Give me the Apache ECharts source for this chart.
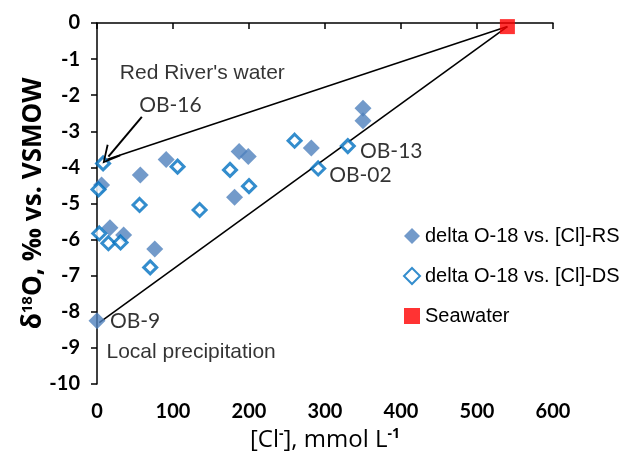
<!DOCTYPE html>
<html>
<head>
<meta charset="utf-8">
<script src="https://cdn.jsdelivr.net/npm/echarts@6/dist/echarts.min.js"></script>
<style>html,body{margin:0;padding:0;background:#fff}#c{width:628px;height:457px}</style>
</head>
<body>
<div id="c"></div>
<script>
// ---- data ----
const rsData = [[350,-2.36],[350,-2.71],[282,-3.46],[91,-3.78],[187,-3.56],[199,-3.70],[57,-4.21],[181,-4.83],[6,-4.49],[17,-5.67],[35,-5.87],[76,-6.26],[0,-8.25]];
const dsData = [[8,-3.89],[106,-3.98],[175,-4.07],[260,-3.26],[291,-4.03],[330,-3.41],[200,-4.52],[2,-4.61],[56,-5.04],[135,-5.18],[3,-5.83],[15,-6.10],[31,-6.08],[70,-6.77]];
const seawater = [[540,-0.1]];
const upperLine = [[10,-3.8],[540,-0.1]];
const lowerLine = [[3,-8.3],[540,-0.1]];
const arrowFrom = [59,-2.6];
const arrowTo = [15,-3.7];
const noteSans = [["Red River's water",30,-1.39],["Local precipitation",12.5,-9.13]];
const noteCal = [["OB-16",55.5,-2.29],["OB-13",346,-3.55],["OB-02",305.5,-4.21],["OB-9",17,-8.27]];
const xTicks = [0,100,200,300,400,500,600];
const yTicks = [0,-1,-2,-3,-4,-5,-6,-7,-8,-9,-10];
const seriesNames = ['delta O-18 vs. [Cl]-RS','delta O-18 vs. [Cl]-DS','Seawater'];

const chart = echarts.init(document.getElementById('c'), null, {renderer:'canvas'});
const cal = 'Lato, "Open Sans", sans-serif';
const ttl = '"Open Sans", Lato, sans-serif';
const ari = '"Liberation Sans", Arial, sans-serif';
const chevron = 'path://M0,0 L11,19 L9,20 L0,4 L-9,20 L-11,19 Z';

chart.setOption({
  animation:false,
  backgroundColor:'#fff',
  grid:{left:97,right:75,top:23,bottom:73},
  legend:{
    data:seriesNames,
    orient:'vertical',
    left:398, top:221,
    itemWidth:16, itemHeight:16, itemGap:20,
    textStyle:{fontFamily:ari,fontSize:20,color:'#000'}
  },
  xAxis:{
    type:'value',min:xTicks[0],max:xTicks[xTicks.length-1],interval:100,
    axisLine:{lineStyle:{color:'#000',width:1.5}},
    axisTick:{show:true,inside:false,length:6,lineStyle:{color:'#000',width:1.5}},
    splitLine:{show:false},
    axisLabel:{fontFamily:cal,fontWeight:'bold',fontSize:20,color:'#000',margin:18},
    name:'{a|[Cl}{s|-}{a|], mmol L}{s|-1}',
    nameLocation:'middle',nameGap:40,
    nameTextStyle:{rich:{a:{fontFamily:ttl,fontSize:24,color:'#000'},s:{fontFamily:ttl,fontSize:14,fontWeight:'bold',color:'#000',verticalAlign:'top',padding:[0,0,12,0]}}}
  },
  yAxis:{
    type:'value',min:yTicks[yTicks.length-1],max:yTicks[0],interval:1,
    axisLine:{onZero:false,lineStyle:{color:'#000',width:1.5}},
    axisTick:{show:true,inside:false,length:6,lineStyle:{color:'#000',width:1.5}},
    splitLine:{show:false},
    axisLabel:{fontFamily:cal,fontWeight:'bold',fontSize:20,color:'#000',margin:17},
    name:'{a|δ}{s|18}{a|O, ‰ vs. VSMOW}',
    nameLocation:'middle',nameGap:50,nameMoveOverlap:false,
    nameTextStyle:{rich:{a:{fontFamily:ttl,fontWeight:'bold',fontSize:26,color:'#000'},s:{fontFamily:ttl,fontWeight:'bold',fontSize:15,color:'#000',verticalAlign:'top',padding:[0,0,12,0]}}}
  },
  series:[
    {name:'upper',type:'line',data:upperLine,symbol:'none',lineStyle:{color:'#000',width:1.6},z:1,silent:true},
    {name:'lower',type:'line',data:lowerLine,symbol:'none',lineStyle:{color:'#000',width:1.6},z:1,silent:true,
      markLine:{silent:true,symbol:['none',chevron],symbolSize:[18,18],lineStyle:{color:'#000',width:2,type:'solid'},label:{show:false},
        data:[[{coord:arrowFrom},{coord:arrowTo}]]}},
    {name:seriesNames[0],type:'scatter',data:rsData,symbol:'diamond',symbolSize:17,itemStyle:{color:'#4F81BD'},z:3},
    {name:seriesNames[1],type:'scatter',data:dsData,symbol:'diamond',symbolSize:13,itemStyle:{color:'#fff',borderColor:'#0070C0',borderWidth:3},z:4},
    {name:seriesNames[2],type:'scatter',data:seawater,symbol:'rect',symbolSize:15,itemStyle:{color:'#FF0000'},z:4},
    {name:'notesA',type:'scatter',silent:true,symbolSize:0,z:5,
      data:noteSans.map(n=>({name:n[0],value:[n[1],n[2]]})),
      label:{show:true,position:'right',distance:0,formatter:p=>p.name,fontFamily:ari,fontSize:21,color:'#000'}},
    {name:'notesB',type:'scatter',silent:true,symbolSize:0,z:5,
      data:noteCal.map(n=>({name:n[0],value:[n[1],n[2]]})),
      label:{show:true,position:'right',distance:0,formatter:p=>p.name,fontFamily:cal,fontSize:21,color:'#000'}}
  ]
});
</script>
</body>
</html>
